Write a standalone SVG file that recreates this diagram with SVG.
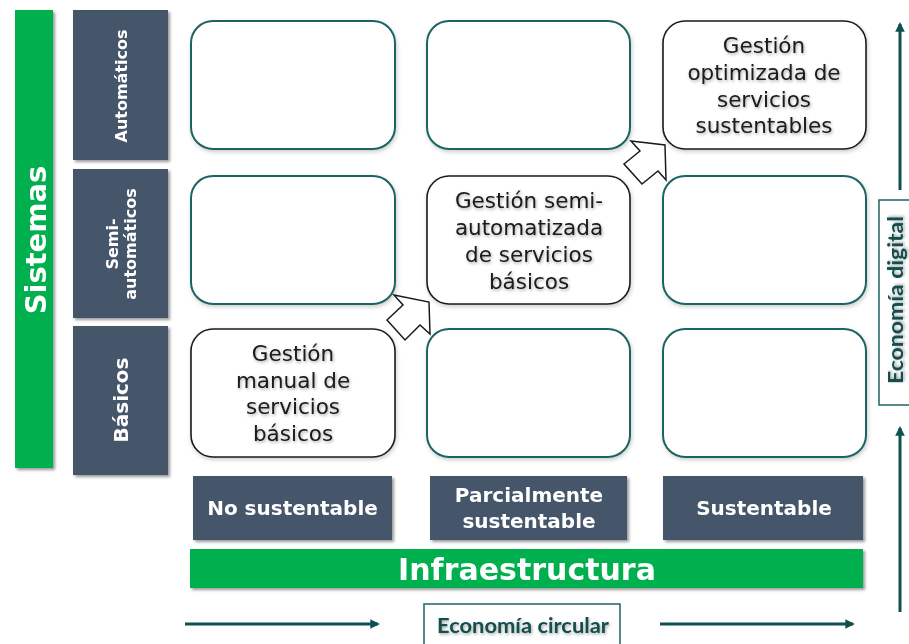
<svg xmlns="http://www.w3.org/2000/svg" width="909" height="644" viewBox="0 0 909 644">
<defs>
<style>
.cell{fill:#fff;stroke:#1E6464;stroke-width:2;}
.hl{fill:#fff;stroke:#1a1a1a;stroke-width:1.6;}
.lbl{fill:#44546A;}
.green{fill:#00B050;}
.wt{fill:#fff;font-family:"DejaVu Sans",Verdana,sans-serif;font-weight:bold;text-anchor:middle;}
.bt{fill:#1a1a1a;font-family:"DejaVu Sans",Verdana,sans-serif;font-size:21.5px;text-anchor:middle;}
.et{fill:#124E4E;font-family:Lato,"Liberation Sans",sans-serif;font-weight:bold;font-size:21.5px;text-anchor:middle;}
.ebox{fill:#fff;stroke:#1E6464;stroke-width:1.5;}
.axis{stroke:#0F5050;stroke-width:3;fill:none;}
.blk{fill:#fff;stroke:#1a1a1a;stroke-width:1.5;stroke-linejoin:miter;}
</style>
<filter id="sh" x="-10%" y="-10%" width="130%" height="130%">
<feDropShadow dx="2" dy="2" stdDeviation="1.5" flood-color="#000" flood-opacity="0.4"/>
</filter>
<filter id="soft" x="-10%" y="-10%" width="130%" height="130%">
<feDropShadow dx="1" dy="2" stdDeviation="2" flood-color="#000" flood-opacity="0.2"/>
</filter>
<filter id="tsh" x="-10%" y="-20%" width="130%" height="150%">
<feDropShadow dx="1" dy="1.5" stdDeviation="1.5" flood-color="#000" flood-opacity="0.35"/>
</filter>
<marker id="ah" viewBox="0 0 10 10" refX="8" refY="5" markerWidth="3.2" markerHeight="3.2" orient="auto">
<path d="M0,0 L10,5 L0,10 z" fill="#0F5050"/>
</marker>
</defs>

<g id="sistemas" filter="url(#sh)">
<rect class="green" x="15" y="10" width="38" height="458"/>
<text class="wt" font-size="29" transform="translate(46,240) rotate(-90)">Sistemas</text>
</g>

<g id="row-automaticos" filter="url(#sh)">
<rect class="lbl" x="73" y="10" width="95" height="150"/>
<text class="wt" font-size="16" transform="translate(127,86) rotate(-90)">Automáticos</text>
</g>
<g id="row-semiautomaticos" filter="url(#sh)">
<rect class="lbl" x="73" y="169" width="95" height="149"/>
<text class="wt" font-size="16" transform="translate(118,244) rotate(-90)">Semi-</text>
<text class="wt" font-size="16" transform="translate(136,244) rotate(-90)">automáticos</text>
</g>
<g id="row-basicos" filter="url(#sh)">
<rect class="lbl" x="73" y="326" width="95" height="149"/>
<text class="wt" font-size="20" transform="translate(128,400) rotate(-90)">Básicos</text>
</g>

<g id="cell-1-1" filter="url(#soft)"><rect class="cell" x="191" y="21" width="204" height="128" rx="22"/></g>
<g id="cell-1-2" filter="url(#soft)"><rect class="cell" x="427" y="21" width="203" height="128" rx="22"/></g>
<g id="cell-1-3" filter="url(#soft)">
<rect class="hl" x="663" y="21" width="203" height="128" rx="22"/>
<g class="bt" filter="url(#tsh)">
<text x="764" y="53">Gestión</text>
<text x="764" y="80">optimizada de</text>
<text x="764" y="107">servicios</text>
<text x="764" y="133">sustentables</text>
</g>
</g>

<g id="cell-2-1" filter="url(#soft)"><rect class="cell" x="191" y="176" width="204" height="128" rx="22"/></g>
<g id="cell-2-2" filter="url(#soft)">
<rect class="hl" x="427" y="176" width="203" height="128" rx="22"/>
<g class="bt" filter="url(#tsh)">
<text x="529" y="208">Gestión semi-</text>
<text x="529" y="235">automatizada</text>
<text x="529" y="262">de servicios</text>
<text x="529" y="289">básicos</text>
</g>
</g>
<g id="cell-2-3" filter="url(#soft)"><rect class="cell" x="663" y="176" width="203" height="128" rx="22"/></g>

<g id="cell-3-1" filter="url(#soft)">
<rect class="hl" x="191" y="329" width="204" height="128" rx="22"/>
<g class="bt" filter="url(#tsh)">
<text x="293" y="361">Gestión</text>
<text x="293" y="388">manual de</text>
<text x="293" y="414">servicios</text>
<text x="293" y="441">básicos</text>
</g>
</g>
<g id="cell-3-2" filter="url(#soft)"><rect class="cell" x="427" y="329" width="203" height="128" rx="22"/></g>
<g id="cell-3-3" filter="url(#soft)"><rect class="cell" x="663" y="329" width="203" height="128" rx="22"/></g>

<g id="col-no" filter="url(#sh)">
<rect class="lbl" x="193" y="476" width="199" height="64"/>
<text class="wt" font-size="20" x="292.5" y="515">No sustentable</text>
</g>
<g id="col-parcial" filter="url(#sh)">
<rect class="lbl" x="430" y="476" width="197" height="64"/>
<text class="wt" font-size="20" x="529" y="502">Parcialmente</text>
<text class="wt" font-size="20" x="529" y="528">sustentable</text>
</g>
<g id="col-sust" filter="url(#sh)">
<rect class="lbl" x="663" y="476" width="200" height="64"/>
<text class="wt" font-size="20" x="764" y="515">Sustentable</text>
</g>

<g id="infraestructura" filter="url(#sh)">
<rect class="green" x="190" y="549" width="673" height="39"/>
<text class="wt" font-size="30" x="527" y="580">Infraestructura</text>
</g>

<g id="economia-circular">
<rect class="ebox" x="424" y="604" width="196" height="50"/>
<text class="et" x="523" y="633" textLength="172" lengthAdjust="spacingAndGlyphs" filter="url(#tsh)">Economía circular</text>
</g>
<g id="economia-digital">
<rect class="ebox" x="879" y="200" width="40" height="205"/>
<text class="et" font-size="20" transform="translate(903,300) rotate(-90)" textLength="168" lengthAdjust="spacingAndGlyphs" filter="url(#tsh)">Economía digital</text>
</g>

<g id="connectors">
<path class="blk" d="M394,295 L429,302 L430,334 L420,325 L405,340 L387,320 L403,305 Z"/>
<path class="blk" d="M631,141 L665,145 L666,180 L658,171 L642,184 L624,164 L640,151 Z"/>
<line class="axis" x1="185" y1="624" x2="378" y2="624" marker-end="url(#ah)"/>
<line class="axis" x1="660" y1="624" x2="853" y2="624" marker-end="url(#ah)"/>
<line class="axis" x1="900" y1="190" x2="900" y2="24" marker-end="url(#ah)"/>
<line class="axis" x1="900" y1="612" x2="900" y2="428" marker-end="url(#ah)"/>
</g>
</svg>
